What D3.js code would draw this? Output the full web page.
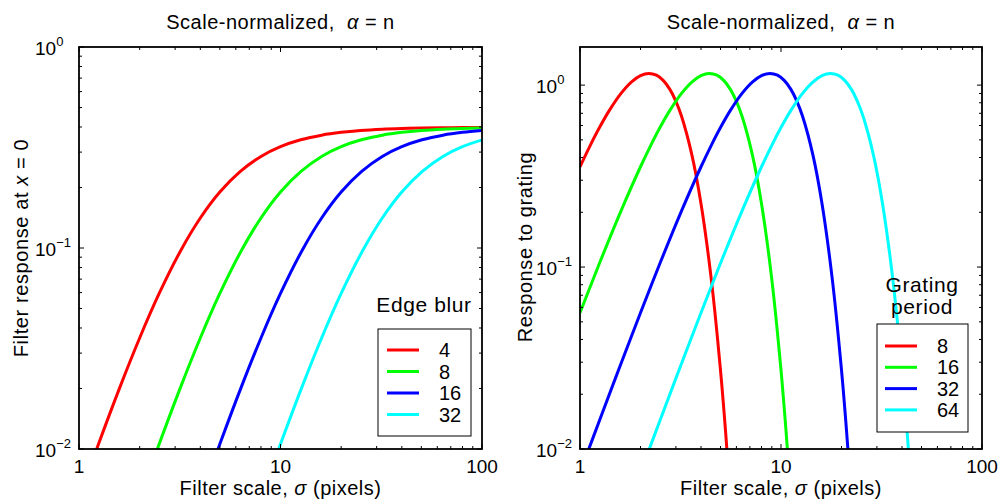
<!DOCTYPE html>
<html><head><meta charset="utf-8">
<script src="https://cdn.jsdelivr.net/npm/d3@7"></script>
<style>
body{margin:0;background:#fff}
svg text{font-family:"Liberation Sans",Arial,Helvetica,sans-serif;fill:#000}
</style>
</head><body>
<svg id="chart" width="1001" height="502"></svg>
<script>
// ---------- data ----------
const edgeBlurLabels = ["4", "8", "16", "32"];
const gratingLabels = ["8", "16", "32", "64"];
const seriesColors = ["#ff0000", "#00ff00", "#0000ff", "#00ffff"];

const xTickLabels = ["1", "10", "100"];
const yTickExponents = ["0", "-1", "-2"];

// Left panel: filter response at x = 0 vs filter scale
const sigmaEdge4  = [1, 1.25, 1.6, 2, 2.5, 3.2, 4, 5, 6.3, 8, 10, 12.6, 16, 20, 25, 32, 40, 50, 63, 80, 100];
const respEdge4   = [0.00569, 0.01059, 0.02044, 0.03568, 0.05939, 0.09726, 0.14105, 0.18995, 0.24003, 0.28546, 0.31932, 0.34543, 0.36426, 0.37615, 0.38410, 0.38977, 0.39303, 0.39514, 0.39654, 0.39745, 0.39799];
const sigmaEdge8  = [2, 2.5, 3.2, 4, 5, 6.4, 8, 10, 12.6, 16, 20, 25.2, 32, 40, 50, 64, 80, 100];
const respEdge8   = [0.00569, 0.01059, 0.02044, 0.03568, 0.05939, 0.09726, 0.14105, 0.18995, 0.24003, 0.28546, 0.31932, 0.34543, 0.36426, 0.37615, 0.38410, 0.38977, 0.39303, 0.39514];
const sigmaEdge16 = [4, 5, 6.4, 8, 10, 12.8, 16, 20, 25.2, 32, 40, 50.4, 64, 80, 100];
const respEdge16  = [0.00569, 0.01059, 0.02044, 0.03568, 0.05939, 0.09726, 0.14105, 0.18995, 0.24003, 0.28546, 0.31932, 0.34543, 0.36426, 0.37615, 0.38410];
const sigmaEdge32 = [8, 10, 12.8, 16, 20, 25.6, 32, 40, 50.4, 64, 80, 100.8];
const respEdge32  = [0.00569, 0.01059, 0.02044, 0.03568, 0.05939, 0.09726, 0.14105, 0.18995, 0.24003, 0.28546, 0.31932, 0.34543];

// Right panel: response to grating vs filter scale
const sigmaGrat8  = [1, 1.125, 1.25, 1.4, 1.6, 1.8, 2, 2.2, 2.4, 2.6, 2.8, 3, 3.2, 3.6, 4, 4.5, 5, 5.3, 5.6];
const respGrat8   = [0.3559, 0.4669, 0.5844, 0.7263, 0.9010, 1.0402, 1.1287, 1.1594, 1.1334, 1.0585, 0.9475, 0.8149, 0.6747, 0.4152, 0.2230, 0.0856, 0.02713, 0.01246, 0.00536];
const sigmaGrat16 = [1, 1.26, 1.6, 2, 2.25, 2.5, 2.8, 3.2, 3.6, 4, 4.4, 4.8, 5.2, 5.6, 6, 6.4, 7.2, 8, 9, 10, 10.6, 11.2];
const respGrat16  = [0.05607, 0.1072, 0.2036, 0.3559, 0.4669, 0.5844, 0.7263, 0.9010, 1.0402, 1.1287, 1.1594, 1.1334, 1.0585, 0.9475, 0.8149, 0.6747, 0.4152, 0.2230, 0.0856, 0.02713, 0.01246, 0.00536];
const sigmaGrat32 = [1, 1.28, 1.6, 2, 2.52, 3.2, 4, 4.5, 5, 5.6, 6.4, 7.2, 8, 8.8, 9.6, 10.4, 11.2, 12, 12.8, 14.4, 16, 18, 20, 21.2, 22.4];
const respGrat32  = [0.007426, 0.01538, 0.02951, 0.05607, 0.1072, 0.2036, 0.3559, 0.4669, 0.5844, 0.7263, 0.9010, 1.0402, 1.1287, 1.1594, 1.1334, 1.0585, 0.9475, 0.8149, 0.6747, 0.4152, 0.2230, 0.0856, 0.02713, 0.01246, 0.00536];
const sigmaGrat64 = [2, 2.56, 3.2, 4, 5.04, 6.4, 8, 9, 10, 11.2, 12.8, 14.4, 16, 17.6, 19.2, 20.8, 22.4, 24, 25.6, 28.8, 32, 36, 40, 42.4, 44.8];
const respGrat64  = [0.007426, 0.01538, 0.02951, 0.05607, 0.1072, 0.2036, 0.3559, 0.4669, 0.5844, 0.7263, 0.9010, 1.0402, 1.1287, 1.1594, 1.1334, 1.0585, 0.9475, 0.8149, 0.6747, 0.4152, 0.2230, 0.0856, 0.02713, 0.01246, 0.00536];

// ---------- drawing ----------
const svg = d3.select("#chart");
const zip = (xs, ys) => xs.map((x, i) => ({x, y: ys[i]}));

const majorX = [1, 10, 100];
const minorX = [2,3,4,5,6,7,8,9,20,30,40,50,60,70,80,90];
const majorY = [1, 0.1, 0.01];
const minorY = [0.02,0.03,0.04,0.05,0.06,0.07,0.08,0.09,0.2,0.3,0.4,0.5,0.6,0.7,0.8,0.9];

function panel(cfg) {
  const {left, right, top, bottom, yMax, series, id} = cfg;
  const x = d3.scaleLog().domain([1, 100]).range([left, right]);
  const y = d3.scaleLog().domain([0.01, yMax]).range([bottom, top]);
  const g = svg.append("g");

  g.append("clipPath").attr("id", id).append("rect")
    .attr("x", left).attr("y", top).attr("width", right - left).attr("height", bottom - top);

  const line = d3.line().x(d => x(d.x)).y(d => y(d.y)).curve(d3.curveCatmullRom.alpha(0.5));
  const cg = g.append("g").attr("clip-path", `url(#${id})`);
  series.forEach((s, i) => {
    cg.append("path").attr("d", line(s)).attr("fill", "none")
      .attr("stroke", seriesColors[i]).attr("stroke-width", 3).attr("stroke-linejoin", "round");
  });

  // ticks (inward, all four sides)
  const tickLayer = g.append("g").attr("stroke", "#000").attr("stroke-width", 1);
  const yMinorVis = minorY.filter(v => v <= yMax);
  function xTicks(vals, len) {
    vals.forEach(v => {
      tickLayer.append("line").attr("x1", x(v)).attr("x2", x(v)).attr("y1", bottom).attr("y2", bottom - len);
      tickLayer.append("line").attr("x1", x(v)).attr("x2", x(v)).attr("y1", top).attr("y2", top + len);
    });
  }
  function yTicks(vals, len) {
    vals.forEach(v => {
      tickLayer.append("line").attr("y1", y(v)).attr("y2", y(v)).attr("x1", left).attr("x2", left + len);
      tickLayer.append("line").attr("y1", y(v)).attr("y2", y(v)).attr("x1", right).attr("x2", right - len);
    });
  }
  xTicks(majorX, 5); xTicks(minorX, 3);
  yTicks(majorY, 5); yTicks(yMinorVis, 3);

  g.append("rect").attr("x", left).attr("y", top).attr("width", right - left).attr("height", bottom - top)
    .attr("fill", "none").attr("stroke", "#000").attr("stroke-width", 1.8);

  // tick labels
  majorX.forEach((v, i) => {
    g.append("text").attr("x", x(v)).attr("y", bottom + 24).attr("text-anchor", "middle")
      .attr("font-size", 19).text(xTickLabels[i]);
  });
  majorY.forEach((v, i) => {
    const t = g.append("text").attr("x", left - 44).attr("y", y(v) + 8).attr("font-size", 19);
    t.append("tspan").text("10");
    t.append("tspan").attr("dy", -9).attr("font-size", 13).text(yTickExponents[i].replace("-", "\u2212"));
  });

  // title
  const cx = (left + right) / 2;
  const tt = g.append("text").attr("x", cx).attr("y", 29).attr("text-anchor", "middle")
    .attr("font-size", 20).attr("letter-spacing", 0.5).style("white-space", "pre");
  tt.append("tspan").text("Scale-normalized,  ");
  tt.append("tspan").attr("font-style", "italic").text("\u03b1");
  tt.append("tspan").text(" = n");

  // x label
  const xl = g.append("text").attr("x", cx).attr("y", 495).attr("text-anchor", "middle")
    .attr("font-size", 20).attr("letter-spacing", 0.5);
  xl.append("tspan").text("Filter scale, ");
  xl.append("tspan").attr("font-style", "italic").text("\u03c3");
  xl.append("tspan").text(" (pixels)");

  return {x, y, g};
}

const L = panel({id: "clipL", left: 79, right: 482, top: 47, bottom: 449, yMax: 1,
  series: [zip(sigmaEdge4, respEdge4), zip(sigmaEdge8, respEdge8), zip(sigmaEdge16, respEdge16), zip(sigmaEdge32, respEdge32)]});
const R = panel({id: "clipR", left: 580, right: 982, top: 47, bottom: 449, yMax: 1.62,
  series: [zip(sigmaGrat8, respGrat8), zip(sigmaGrat16, respGrat16), zip(sigmaGrat32, respGrat32), zip(sigmaGrat64, respGrat64)]});

// y labels
const yl1 = svg.append("text").attr("transform", "translate(28,248) rotate(-90)").attr("text-anchor", "middle")
  .attr("font-size", 20).attr("letter-spacing", 0.6);
yl1.append("tspan").text("Filter response at ");
yl1.append("tspan").attr("font-style", "italic").text("x");
yl1.append("tspan").text(" = 0");
svg.append("text").attr("transform", "translate(532,247) rotate(-90)").attr("text-anchor", "middle")
  .attr("font-size", 20).attr("letter-spacing", 0.6).text("Response to grating");

// legends
function legend(g, box, titleLines, titleX, titleY0, labels, lineX1, lineX2, rowY, labelX) {
  titleLines.forEach((t, i) => {
    g.append("text").attr("x", titleX).attr("y", titleY0 + i * 21.5).attr("text-anchor", "middle")
      .attr("font-size", 21).attr("letter-spacing", 0.6).text(t);
  });
  g.append("rect").attr("x", box[0]).attr("y", box[1]).attr("width", box[2]).attr("height", box[3])
    .attr("fill", "#fff").attr("stroke", "#000").attr("stroke-width", 1);
  labels.forEach((lab, i) => {
    const yy = rowY[0] + i * rowY[1];
    g.append("line").attr("x1", lineX1).attr("x2", lineX2).attr("y1", yy).attr("y2", yy)
      .attr("stroke", seriesColors[i]).attr("stroke-width", 3);
    g.append("text").attr("x", labelX).attr("y", yy + 7).attr("font-size", 20).text(lab);
  });
}
legend(L.g, [378, 329, 93, 107], ["Edge blur"], 424, 312, edgeBlurLabels, 387, 419, [350, 21.5], 439);
legend(R.g, [877, 324, 91, 108], ["Grating", "period"], 922, 292, gratingLabels, 885, 917, [346, 21.3], 937);
</script>
</body></html>
